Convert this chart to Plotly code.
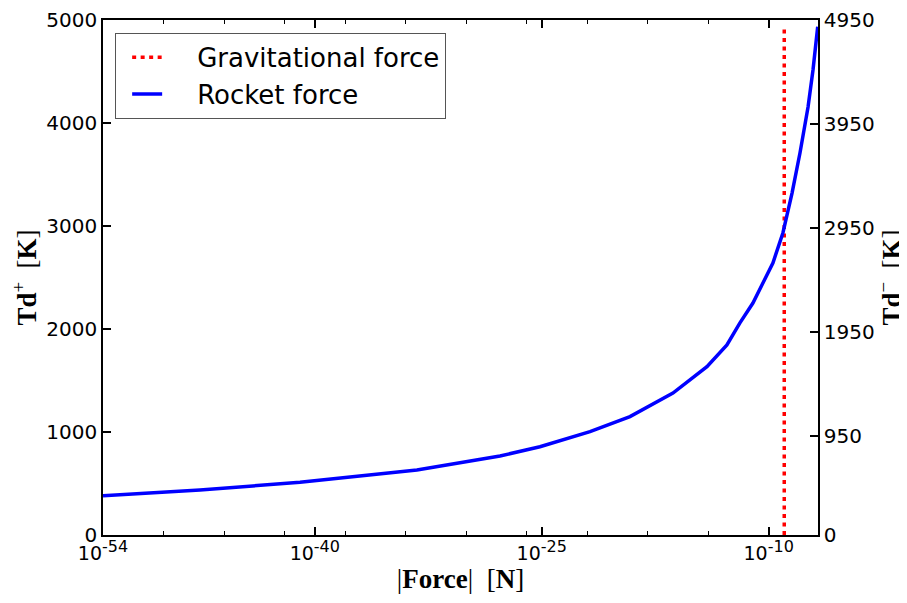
import plotly.graph_objects as go

# data
rocket_force = [1e-54, 2.57e-48, 1.05e-41, 5.6e-34, 1.74e-28, 7.6e-26, 1.55e-22, 6.8e-20,
                4.7e-17, 8.3e-15, 1.74e-13, 1.26e-12, 9.1e-12, 1.9e-10, 8.7e-10,
                3.5e-9, 1.17e-8, 4.0e-8, 8.5e-8, 1.55e-7, 1.74e-7]
rocket_td = [382, 437, 512, 631, 767, 857, 1003, 1149,
             1378, 1634, 1845, 2060, 2252, 2641, 2932,
             3320, 3709, 4155, 4515, 4903, 4935]
grav_force = 1.07e-9
grav_td = [0, 4925]

x_ticks = [1e-54, 1e-40, 1e-25, 1e-10]
x_exps = ['-54', '-40', '-25', '-10']
x_minor = [1e-50, 1e-46, 1e-42, 1e-38, 1e-34, 1e-30, 1e-26, 1e-22, 1e-18, 1e-14]
y_left_ticks = [0, 1000, 2000, 3000, 4000, 5000]
y_right_ticks = [0, 950, 1950, 2950, 3950, 4950]

x_ticktext = ['10<sup><span style="font-size:16px">%s</span></sup>' % e for e in x_exps]

tick_font = dict(family='DejaVu Sans', size=20, color='black')
title_font = dict(family='Liberation Serif', size=27, color='black')
pad = '\u00a0\u00a0\u00a0\u2009'   # gap between legend line and label

fig = go.Figure()
fig.add_trace(go.Scatter(x=[grav_force, grav_force], y=grav_td, mode='lines',
                         line=dict(color='red', width=3.5, dash='4px,4.5px'),
                         name=pad + 'Gravitational force'))
fig.add_trace(go.Scatter(x=rocket_force, y=rocket_td, mode='lines',
                         line=dict(color='blue', width=3.5),
                         name=pad + 'Rocket force'))
# empty trace so the right axis gets drawn
fig.add_trace(go.Scatter(x=[rocket_force[0]], y=[0], yaxis='y2', mode='markers',
                         marker=dict(opacity=0), showlegend=False, hoverinfo='skip'))

# page body has an 8px margin, so the figure is 8px smaller than the window
fig.update_layout(
    width=899, height=595,
    margin=dict(l=95, r=89, t=12, b=68),
    plot_bgcolor='white', paper_bgcolor='white',
    xaxis=dict(type='log', range=[-54, -6.74], tickvals=x_ticks, ticktext=x_ticktext,
               ticks='inside', ticklen=8, tickwidth=1.5, tickcolor='black',
               minor=dict(tickvals=x_minor, ticks='inside', ticklen=4, tickcolor='black', tickwidth=1),
               showline=True, linecolor='black', linewidth=1.5, mirror='ticks',
               showgrid=False, zeroline=False, automargin=False,
               tickfont=dict(family='DejaVu Sans', size=19, color='black'),
               title=dict(text='|<b>Force</b>|  [<b>N</b>]', font=title_font, standoff=6)),
    yaxis=dict(range=[0, 5000], tickvals=y_left_ticks, ticks='inside', ticklen=8, tickwidth=1.5,
               tickcolor='black', showline=True, linecolor='black', linewidth=1.5,
               showgrid=False, zeroline=False, tickfont=tick_font, automargin=False,
               title=dict(text='<b>Td</b><sup>+</sup>  [<b>K</b>]', font=title_font, standoff=10)),
    yaxis2=dict(range=[0, 4950], tickvals=y_right_ticks, overlaying='y', side='right',
                ticks='inside', ticklen=8, tickwidth=1.5, tickcolor='black',
                showline=True, linecolor='black', linewidth=1.5, automargin=False,
                showgrid=False, zeroline=False, tickfont=tick_font,
                title=dict(text='<b>Td</b><sup>\u2212</sup>  [<b>K</b>]', font=title_font, standoff=10)),
    legend=dict(x=0.017, y=0.975, xanchor='left', yanchor='top', indentation=11,
                bgcolor='white', bordercolor='#555555', borderwidth=1,
                font=dict(family='DejaVu Sans', size=26, color='black')),
    showlegend=True,
)

fig.write_html("out.html")
